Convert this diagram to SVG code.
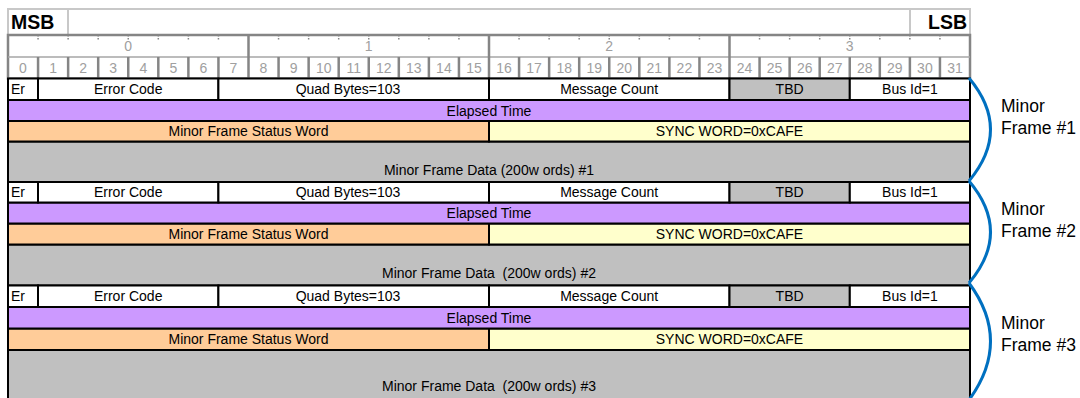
<svg xmlns="http://www.w3.org/2000/svg" width="1080" height="398" viewBox="0 0 1080 398">
<style>
text{font-family:"Liberation Sans",Arial,sans-serif;font-size:14px;fill:#000;}
.c{text-anchor:middle;}
.hb{font-size:19.5px;font-weight:bold;}
.g{fill:#a0a0a0;text-anchor:middle;}
.side{font-size:17.5px;}
.pre{white-space:pre;}
.cell{stroke:#000;stroke-width:2;}
.w{fill:#fff;}
.gr{fill:#c0c0c0;}
.pu{fill:#cc99ff;}
.or{fill:#ffcc99;}
.ye{fill:#ffffcc;}
.hl{stroke:#c8c8c8;stroke-width:2;fill:none;}
.hd{stroke:#858585;stroke-width:2.5;fill:none;}
.tick{stroke:#858585;stroke-width:1.5;stroke-dasharray:1.5,1.5;}
.brace{fill:none;stroke:#0070c0;stroke-width:3;}
</style>

<g id="header">
  <rect x="8" y="9" width="962" height="26" fill="#fff" class="hl"/>
  <line x1="68" y1="9" x2="68" y2="35" class="hl"/>
  <line x1="910" y1="9" x2="910" y2="35" class="hl"/>
  <text x="11" y="28.5" class="hb">MSB</text>
  <text x="967" y="28.5" class="hb" text-anchor="end">LSB</text>
  <rect x="8" y="35" width="962" height="43.5" fill="#fff" class="hd"/>
  <line x1="8" y1="57" x2="970" y2="57" stroke="#a6a6a6" stroke-width="1.5"/>
  <g class="hd">
    <line x1="248.5" y1="35" x2="248.5" y2="78.5"/>
    <line x1="489" y1="35" x2="489" y2="78.5"/>
    <line x1="729.5" y1="35" x2="729.5" y2="78.5"/>
    <line x1="38.06" y1="57" x2="38.06" y2="78.5"/><line x1="68.13" y1="57" x2="68.13" y2="78.5"/>
    <line x1="98.19" y1="57" x2="98.19" y2="78.5"/><line x1="128.25" y1="57" x2="128.25" y2="78.5"/>
    <line x1="158.31" y1="57" x2="158.31" y2="78.5"/><line x1="188.38" y1="57" x2="188.38" y2="78.5"/>
    <line x1="218.44" y1="57" x2="218.44" y2="78.5"/><line x1="278.56" y1="57" x2="278.56" y2="78.5"/>
    <line x1="308.63" y1="57" x2="308.63" y2="78.5"/><line x1="338.69" y1="57" x2="338.69" y2="78.5"/>
    <line x1="368.75" y1="57" x2="368.75" y2="78.5"/><line x1="398.81" y1="57" x2="398.81" y2="78.5"/>
    <line x1="428.88" y1="57" x2="428.88" y2="78.5"/><line x1="458.94" y1="57" x2="458.94" y2="78.5"/>
    <line x1="519.06" y1="57" x2="519.06" y2="78.5"/><line x1="549.13" y1="57" x2="549.13" y2="78.5"/>
    <line x1="579.19" y1="57" x2="579.19" y2="78.5"/><line x1="609.25" y1="57" x2="609.25" y2="78.5"/>
    <line x1="639.31" y1="57" x2="639.31" y2="78.5"/><line x1="669.38" y1="57" x2="669.38" y2="78.5"/>
    <line x1="699.44" y1="57" x2="699.44" y2="78.5"/><line x1="759.56" y1="57" x2="759.56" y2="78.5"/>
    <line x1="789.63" y1="57" x2="789.63" y2="78.5"/><line x1="819.69" y1="57" x2="819.69" y2="78.5"/>
    <line x1="849.75" y1="57" x2="849.75" y2="78.5"/><line x1="879.81" y1="57" x2="879.81" y2="78.5"/>
    <line x1="909.88" y1="57" x2="909.88" y2="78.5"/><line x1="939.94" y1="57" x2="939.94" y2="78.5"/>
  </g>
  <g class="tick">
    <line x1="38.06" y1="35" x2="38.06" y2="40"/><line x1="68.13" y1="35" x2="68.13" y2="40"/>
    <line x1="98.19" y1="35" x2="98.19" y2="40"/><line x1="128.25" y1="35" x2="128.25" y2="40"/>
    <line x1="158.31" y1="35" x2="158.31" y2="40"/><line x1="188.38" y1="35" x2="188.38" y2="40"/>
    <line x1="218.44" y1="35" x2="218.44" y2="40"/><line x1="278.56" y1="35" x2="278.56" y2="40"/>
    <line x1="308.63" y1="35" x2="308.63" y2="40"/><line x1="338.69" y1="35" x2="338.69" y2="40"/>
    <line x1="368.75" y1="35" x2="368.75" y2="40"/><line x1="398.81" y1="35" x2="398.81" y2="40"/>
    <line x1="428.88" y1="35" x2="428.88" y2="40"/><line x1="458.94" y1="35" x2="458.94" y2="40"/>
    <line x1="519.06" y1="35" x2="519.06" y2="40"/><line x1="549.13" y1="35" x2="549.13" y2="40"/>
    <line x1="579.19" y1="35" x2="579.19" y2="40"/><line x1="609.25" y1="35" x2="609.25" y2="40"/>
    <line x1="639.31" y1="35" x2="639.31" y2="40"/><line x1="669.38" y1="35" x2="669.38" y2="40"/>
    <line x1="699.44" y1="35" x2="699.44" y2="40"/><line x1="759.56" y1="35" x2="759.56" y2="40"/>
    <line x1="789.63" y1="35" x2="789.63" y2="40"/><line x1="819.69" y1="35" x2="819.69" y2="40"/>
    <line x1="849.75" y1="35" x2="849.75" y2="40"/><line x1="879.81" y1="35" x2="879.81" y2="40"/>
    <line x1="909.88" y1="35" x2="909.88" y2="40"/><line x1="939.94" y1="35" x2="939.94" y2="40"/>
  </g>
  <text x="128.25" y="51" class="g">0</text>
  <text x="368.75" y="51" class="g">1</text>
  <text x="609.25" y="51" class="g">2</text>
  <text x="849.75" y="51" class="g">3</text>
  <text x="23" y="73" class="g">0</text><text x="53.1" y="73" class="g">1</text>
  <text x="83.2" y="73" class="g">2</text><text x="113.2" y="73" class="g">3</text>
  <text x="143.3" y="73" class="g">4</text><text x="173.3" y="73" class="g">5</text>
  <text x="203.4" y="73" class="g">6</text><text x="233.5" y="73" class="g">7</text>
  <text x="263.5" y="73" class="g">8</text><text x="293.6" y="73" class="g">9</text>
  <text x="323.7" y="73" class="g">10</text><text x="353.7" y="73" class="g">11</text>
  <text x="383.8" y="73" class="g">12</text><text x="413.8" y="73" class="g">13</text>
  <text x="443.9" y="73" class="g">14</text><text x="474" y="73" class="g">15</text>
  <text x="504" y="73" class="g">16</text><text x="534.1" y="73" class="g">17</text>
  <text x="564.2" y="73" class="g">18</text><text x="594.2" y="73" class="g">19</text>
  <text x="624.3" y="73" class="g">20</text><text x="654.3" y="73" class="g">21</text>
  <text x="684.4" y="73" class="g">22</text><text x="714.5" y="73" class="g">23</text>
  <text x="744.5" y="73" class="g">24</text><text x="774.6" y="73" class="g">25</text>
  <text x="804.7" y="73" class="g">26</text><text x="834.7" y="73" class="g">27</text>
  <text x="864.8" y="73" class="g">28</text><text x="894.8" y="73" class="g">29</text>
  <text x="924.9" y="73" class="g">30</text><text x="955" y="73" class="g">31</text>
</g>

<g id="frame1">
  <rect x="8" y="141.5" width="962" height="40.5" class="cell gr"/>
  <rect x="8" y="121" width="481" height="20.5" class="cell or"/>
  <rect x="489" y="121" width="481" height="20.5" class="cell ye"/>
  <rect x="8" y="100" width="962" height="21" class="cell pu"/>
  <rect x="8" y="78.5" width="30" height="21.5" class="cell w"/>
  <rect x="38" y="78.5" width="180.4" height="21.5" class="cell w"/>
  <rect x="218.4" y="78.5" width="270.6" height="21.5" class="cell w"/>
  <rect x="489" y="78.5" width="240.5" height="21.5" class="cell w"/>
  <rect x="729.5" y="78.5" width="120.3" height="21.5" class="cell gr"/>
  <rect x="849.8" y="78.5" width="120.2" height="21.5" class="cell w"/>
  <text x="11" y="94">Er</text>
  <text x="128.2" y="94" class="c">Error Code</text>
  <text x="348" y="94" class="c">Quad Bytes=103</text>
  <text x="609.2" y="94" class="c">Message Count</text>
  <text x="789.6" y="94" class="c">TBD</text>
  <text x="909.9" y="94" class="c">Bus Id=1</text>
  <text x="489" y="115.5" class="c">Elapsed Time</text>
  <text x="248.5" y="136" class="c">Minor Frame Status Word</text>
  <text x="729.5" y="136" class="c">SYNC WORD=0xCAFE</text>
  <text x="489" y="175" class="c pre">Minor Frame Data (200w ords) #1</text>
</g>

<g id="frame2">
  <rect x="8" y="244.5" width="962" height="41" class="cell gr"/>
  <rect x="8" y="223.5" width="481" height="21" class="cell or"/>
  <rect x="489" y="223.5" width="481" height="21" class="cell ye"/>
  <rect x="8" y="202.5" width="962" height="21" class="cell pu"/>
  <rect x="8" y="182" width="30" height="20.5" class="cell w"/>
  <rect x="38" y="182" width="180.4" height="20.5" class="cell w"/>
  <rect x="218.4" y="182" width="270.6" height="20.5" class="cell w"/>
  <rect x="489" y="182" width="240.5" height="20.5" class="cell w"/>
  <rect x="729.5" y="182" width="120.3" height="20.5" class="cell gr"/>
  <rect x="849.8" y="182" width="120.2" height="20.5" class="cell w"/>
  <text x="11" y="197">Er</text>
  <text x="128.2" y="197" class="c">Error Code</text>
  <text x="348" y="197" class="c">Quad Bytes=103</text>
  <text x="609.2" y="197" class="c">Message Count</text>
  <text x="789.6" y="197" class="c">TBD</text>
  <text x="909.9" y="197" class="c">Bus Id=1</text>
  <text x="489" y="218" class="c">Elapsed Time</text>
  <text x="248.5" y="239" class="c">Minor Frame Status Word</text>
  <text x="729.5" y="239" class="c">SYNC WORD=0xCAFE</text>
  <text x="489" y="278" class="c pre">Minor Frame Data  (200w ords) #2</text>
</g>

<g id="frame3">
  <rect x="8" y="350" width="962" height="52" class="cell gr"/>
  <rect x="8" y="328.5" width="481" height="21.5" class="cell or"/>
  <rect x="489" y="328.5" width="481" height="21.5" class="cell ye"/>
  <rect x="8" y="307" width="962" height="21.5" class="cell pu"/>
  <rect x="8" y="285.5" width="30" height="21.5" class="cell w"/>
  <rect x="38" y="285.5" width="180.4" height="21.5" class="cell w"/>
  <rect x="218.4" y="285.5" width="270.6" height="21.5" class="cell w"/>
  <rect x="489" y="285.5" width="240.5" height="21.5" class="cell w"/>
  <rect x="729.5" y="285.5" width="120.3" height="21.5" class="cell gr"/>
  <rect x="849.8" y="285.5" width="120.2" height="21.5" class="cell w"/>
  <text x="11" y="301">Er</text>
  <text x="128.2" y="301" class="c">Error Code</text>
  <text x="348" y="301" class="c">Quad Bytes=103</text>
  <text x="609.2" y="301" class="c">Message Count</text>
  <text x="789.6" y="301" class="c">TBD</text>
  <text x="909.9" y="301" class="c">Bus Id=1</text>
  <text x="489" y="322.5" class="c">Elapsed Time</text>
  <text x="248.5" y="344" class="c">Minor Frame Status Word</text>
  <text x="729.5" y="344" class="c">SYNC WORD=0xCAFE</text>
  <text x="489" y="391" class="c pre">Minor Frame Data  (200w ords) #3</text>
</g>

<g id="connectors">
  <path class="brace" d="M969 78 Q1012 129.5 969 181"/>
  <path class="brace" d="M969 181 Q1012 232 969 283"/>
  <path class="brace" d="M969 283 Q1012 341 969 400"/>
</g>

<g id="labels">
  <text x="1001" y="112" class="side">Minor</text>
  <text x="1001" y="134" class="side">Frame #1</text>
  <text x="1001" y="215" class="side">Minor</text>
  <text x="1001" y="237" class="side">Frame #2</text>
  <text x="1001" y="329" class="side">Minor</text>
  <text x="1001" y="351" class="side">Frame #3</text>
</g>
</svg>
